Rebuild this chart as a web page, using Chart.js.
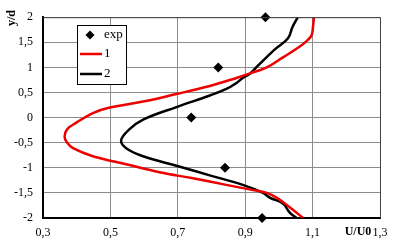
<!DOCTYPE html>
<html>
<head>
<meta charset="utf-8">
<script src="https://cdn.jsdelivr.net/npm/chart.js@4"></script>
<style>
  html, body { margin: 0; padding: 0; background: #fff; }
  #wrap { width: 396px; height: 240px; }
</style>
</head>
<body>
<div id="wrap"><canvas id="c" width="396" height="240"></canvas></div>
<script>
// axis ticks
const xTicks = [0.3, 0.5, 0.7, 0.9, 1.1, 1.3];
const xTickLabels = ['0,3', '0,5', '0,7', '0,9', '1,1', '1,3'];
const yTicks = [-2, -1.5, -1, -0.5, 0, 0.5, 1, 1.5, 2];
const yTickLabels = ['-2', '-1,5', '-1', '-0,5', '0', '0,5', '1', '1,5', '2'];

// experiment points
const expU = [0.96, 0.82, 0.74, 0.84, 0.95];
const expY = [2, 1, 0, -1, -2];

// curve 1 (red)
const c1U = [1.104, 1.101, 1.097, 1.086, 1.063, 1.012, 0.964, 0.914, 0.874, 0.795, 0.696, 0.597, 0.498, 0.448, 0.399, 0.372, 0.364, 0.372, 0.389, 0.448, 0.547, 0.646, 0.745, 0.844, 0.92, 0.964, 0.994, 1.033, 1.072];
const c1Y = [2, 1.8, 1.64, 1.55, 1.42, 1.2, 1.0, 0.88, 0.79, 0.63, 0.47, 0.32, 0.2, 0.09, -0.1, -0.23, -0.38, -0.5, -0.61, -0.77, -0.93, -1.09, -1.21, -1.34, -1.44, -1.5, -1.6, -1.79, -2];

// curve 2 (black)
const c2U = [1.056, 1.04, 1.027, 0.988, 0.94, 0.915, 0.893, 0.874, 0.844, 0.795, 0.696, 0.597, 0.557, 0.532, 0.547, 0.597, 0.696, 0.795, 0.893, 0.953, 0.974, 1.012, 1.033, 1.053];
const c2Y = [2, 1.8, 1.58, 1.36, 1.05, 0.88, 0.79, 0.69, 0.57, 0.44, 0.21, -0.04, -0.23, -0.45, -0.61, -0.77, -0.96, -1.15, -1.34, -1.5, -1.6, -1.71, -1.9, -2];

const FONT = "'Liberation Serif', 'Times New Roman', serif";
const pts = (xs, ys) => xs.map((x, i) => ({ x, y: ys[i] }));

const frame = {
  id: 'frame',
  afterDatasetsDraw(chart) {
    const { ctx, chartArea: a } = chart;
    ctx.save();
    ctx.strokeStyle = '#404040';
    ctx.lineWidth = 1;
    ctx.beginPath();
    ctx.moveTo(a.left, a.top + 0.5);
    ctx.lineTo(a.right + 0.5, a.top + 0.5);
    ctx.lineTo(a.right + 0.5, a.bottom);
    ctx.stroke();
    ctx.restore();
  },
  afterDraw(chart) {
    const { ctx } = chart;
    ctx.save();
    // legend box
    ctx.fillStyle = '#fff';
    ctx.fillRect(77, 25, 49, 59);
    ctx.strokeStyle = '#000';
    ctx.lineWidth = 1;
    ctx.strokeRect(77.5, 25.5, 49, 59);
    ctx.fillStyle = '#000';
    ctx.beginPath();
    ctx.moveTo(90, 30.5); ctx.lineTo(94.5, 35); ctx.lineTo(90, 39.5); ctx.lineTo(85.5, 35);
    ctx.closePath(); ctx.fill();
    ctx.lineWidth = 2.5;
    ctx.strokeStyle = '#ee0000';
    ctx.beginPath(); ctx.moveTo(80, 54); ctx.lineTo(102, 54); ctx.stroke();
    ctx.strokeStyle = '#000';
    ctx.beginPath(); ctx.moveTo(80, 74); ctx.lineTo(102, 74); ctx.stroke();
    ctx.font = '13px ' + FONT;
    ctx.textBaseline = 'middle';
    ctx.textAlign = 'left';
    ctx.fillText('exp', 104, 35);
    ctx.fillText('1', 104, 54);
    ctx.fillText('2', 104, 74);
    // axis titles
    ctx.font = 'bold 12px ' + FONT;
    ctx.textAlign = 'center';
    ctx.fillText('U/U0', 358, 232);
    ctx.translate(12, 18);
    ctx.rotate(-Math.PI / 2);
    ctx.fillText('y/d', 0, 0);
    ctx.restore();
  }
};

new Chart(document.getElementById('c'), {
  type: 'scatter',
  data: {
    datasets: [
      {
        label: 'exp',
        data: pts(expU, expY),
        pointStyle: 'rectRot',
        pointRadius: 5,
        backgroundColor: '#000',
        borderColor: '#000',
        borderWidth: 0,
        clip: false,
      },
      {
        label: '1',
        data: pts(c1U, c1Y),
        showLine: true,
        tension: 0.4,
        borderColor: '#ee0000',
        borderWidth: 2.5,
        pointRadius: 0,
      },
      {
        label: '2',
        data: pts(c2U, c2Y),
        showLine: true,
        tension: 0.4,
        borderColor: '#000',
        borderWidth: 2.5,
        pointRadius: 0,
      },
    ],
  },
  options: {
    responsive: false,
    animation: false,
    events: [],
    layout: { padding: { left: 0, top: 8, right: 16, bottom: 0 } },
    plugins: { legend: { display: false }, tooltip: { enabled: false } },
    scales: {
      x: {
        type: 'linear',
        position: 'bottom',
        min: 0.3,
        max: 1.3,
        afterBuildTicks: s => { s.ticks = xTicks.map(v => ({ value: v })); },
        afterFit: s => { s.height = 22; },
        grid: { color: '#8c8c8c', lineWidth: 1, drawTicks: false },
        border: { color: '#000', width: 2 },
        ticks: {
          padding: 8,
          color: '#000',
          font: { family: FONT, size: 12 },
          maxRotation: 0,
          callback: (v, i) => xTickLabels[i],
        },
      },
      y: {
        type: 'linear',
        position: 'left',
        min: -2,
        max: 2,
        afterBuildTicks: s => { s.ticks = yTicks.map(v => ({ value: v })); },
        afterFit: s => { s.width = 43; },
        grid: { color: '#8c8c8c', lineWidth: 1, drawTicks: false },
        border: { color: '#000', width: 2 },
        ticks: {
          padding: 10,
          color: '#000',
          font: { family: FONT, size: 12 },
          callback: (v, i) => yTickLabels[i],
        },
      },
    },
  },
  plugins: [frame],
});
</script>
</body>
</html>
